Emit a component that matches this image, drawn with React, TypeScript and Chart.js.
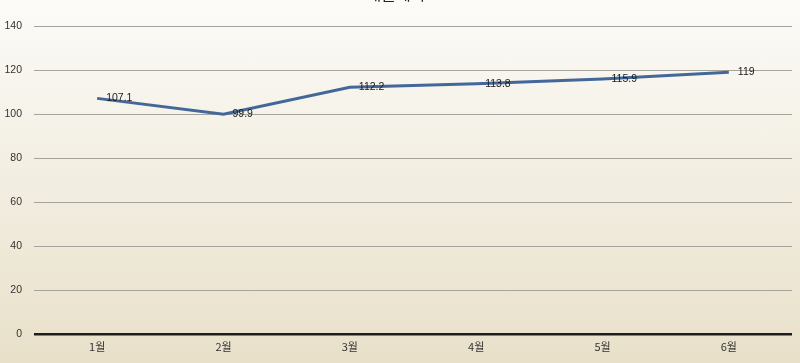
import React, { useEffect, useRef } from "react";
import { Chart, registerables } from "chart.js";

Chart.register(...registerables);

const title = "매출예측";
const categories = ["1월", "2월", "3월", "4월", "5월", "6월"];
const values = [107.1, 99.9, 112.2, 113.8, 115.9, 119];
const yTicks = [0, 20, 40, 60, 80, 100, 120, 140];

const labelPlugin = {
  id: "pointLabels",
  afterDatasetsDraw(chart: any) {
    const ctx = chart.ctx;
    const meta = chart.getDatasetMeta(0);
    ctx.save();
    ctx.font = "10.5px 'Liberation Sans', sans-serif";
    ctx.fillStyle = "#1a1a1a";
    ctx.textAlign = "left";
    ctx.textBaseline = "middle";
    meta.data.forEach((pt: any, i: number) => {
      ctx.fillText(String(values[i]), pt.x + 9, pt.y);
    });
    ctx.restore();
  },
};

export default function App() {
  const ref = useRef<HTMLCanvasElement | null>(null);
  useEffect(() => {
    if (!ref.current) return;
    const chart = new Chart(ref.current, {
      type: "line",
      data: {
        labels: categories,
        datasets: [
          {
            data: values,
            borderColor: "#44679a",
            borderWidth: 3,
            pointRadius: 0,
            tension: 0,
            fill: false,
          },
        ],
      },
      options: {
        animation: false,
        responsive: false,
        maintainAspectRatio: false,
        layout: { padding: { left: 0, right: 8, top: 0, bottom: 0 } },
        plugins: {
          legend: { display: false },
          tooltip: { enabled: false },
          title: {
            display: true,
            text: title,
            color: "#222",
            font: { family: "'Noto Sans CJK KR', sans-serif", size: 16, weight: "normal" as any },
            padding: { top: 0, bottom: 22.8 },
          },
        },
        scales: {
          x: {
            type: "category",
            offset: true,
            grid: { display: false, drawTicks: false },
            border: { display: false },
            ticks: {
              color: "#333",
              padding: 6,
              font: { family: "'Noto Sans CJK KR', sans-serif", size: 11 },
            },
            afterFit(scale: any) {
              scale.height = 29;
            },
          },
          y: {
            min: 0,
            max: 140,
            afterBuildTicks(scale: any) {
              scale.ticks = yTicks.map((v) => ({ value: v }));
            },
            grid: {
              drawTicks: false,
              color: (c: any) => (c.tick && c.tick.value === 0 ? "#1e1e1e" : "#a5a49c"),
              lineWidth: (c: any) => (c.tick && c.tick.value === 0 ? 2.5 : 1),
            },
            border: { display: false },
            ticks: {
              color: "#333",
              padding: 12,
              font: { family: "'Liberation Sans', sans-serif", size: 10.5 },
            },
            afterFit(scale: any) {
              scale.width = 34;
            },
          },
        },
      },
      plugins: [labelPlugin],
    });
    return () => chart.destroy();
  }, []);

  return (
    <div
      style={{
        position: "fixed",
        left: 0,
        top: 0,
        width: 800,
        height: 363,
        overflow: "hidden",
        background: "linear-gradient(to bottom, #fcfbf8 0%, #f3efe3 45%, #e8e0c9 100%)",
      }}
    >
      <canvas
        ref={ref}
        width={800}
        height={379}
        style={{ position: "absolute", left: 0, top: -16, width: 800, height: 379 }}
      />
    </div>
  );
}
